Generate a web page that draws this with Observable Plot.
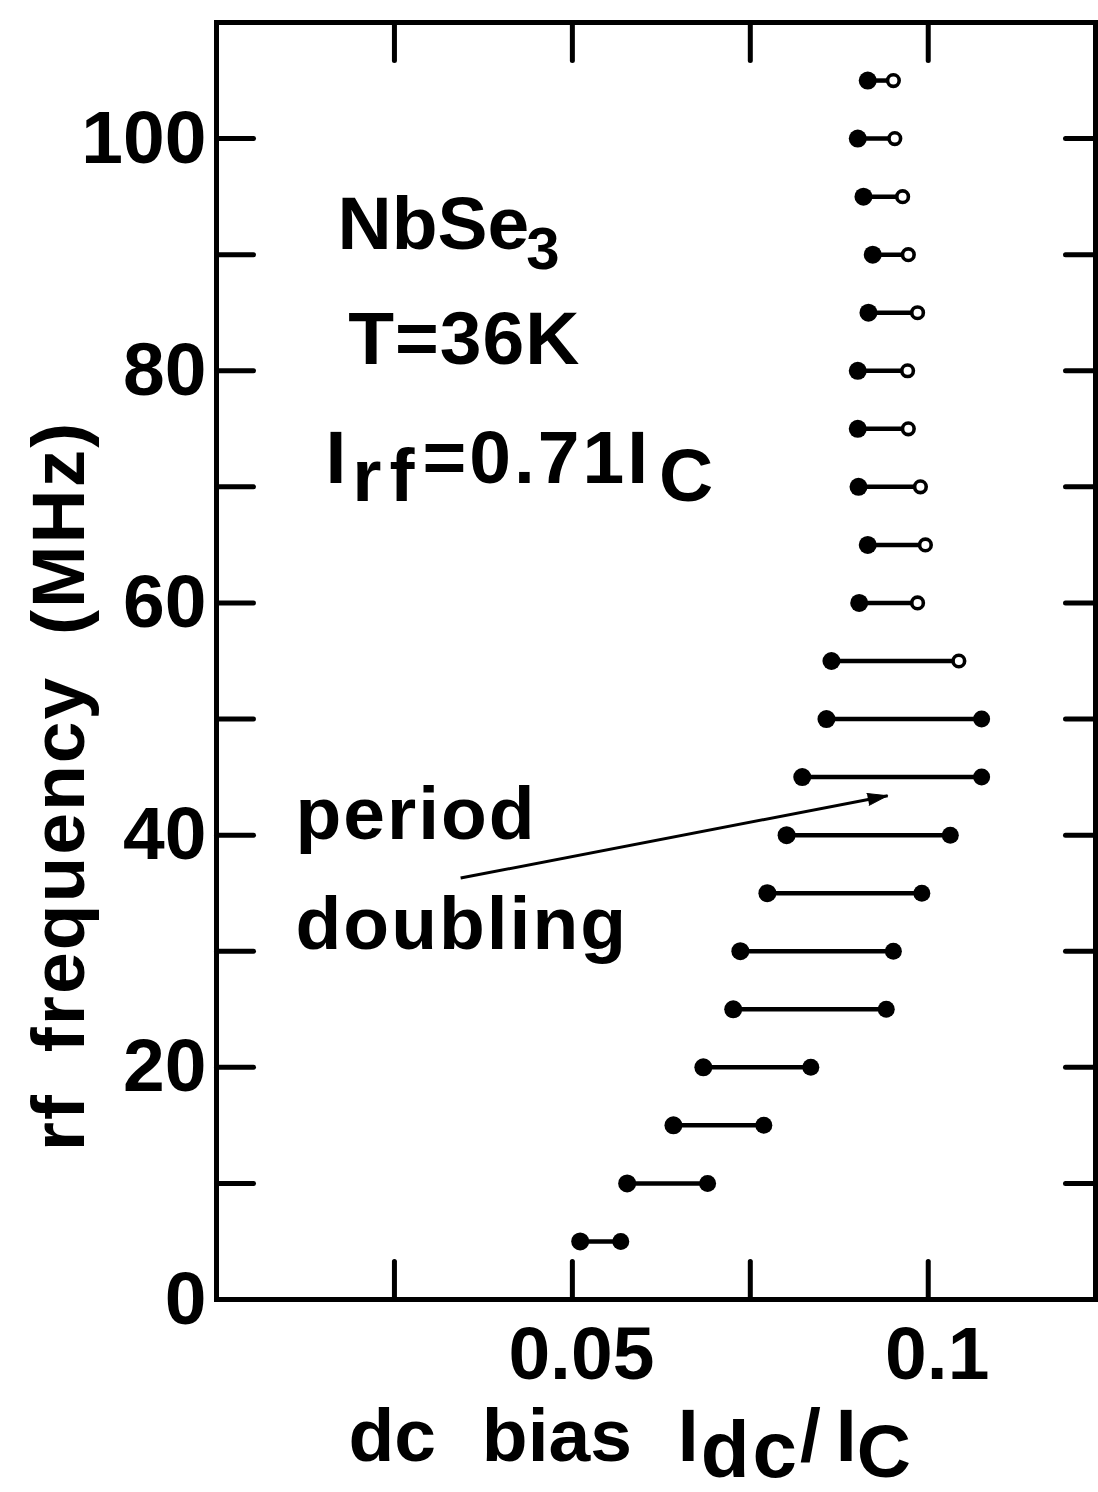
<!DOCTYPE html>
<html>
<head>
<meta charset="utf-8">
<script src="https://cdn.jsdelivr.net/npm/d3@7"></script>
<script src="https://cdn.jsdelivr.net/npm/@observablehq/plot@0.6"></script>
<style>
  html, body { margin: 0; padding: 0; background: #ffffff; }
  #chart svg { display: block; }
</style>
</head>
<body>
<div id="chart"></div>
<script>
// ---- data ----
const frequencyMHz = [5, 10, 15, 20, 25, 30, 35, 40, 45, 50, 55, 60, 65, 70, 75, 80, 85, 90, 95, 100, 105];
const lowerBias = [0.0511, 0.0577, 0.0642, 0.0684, 0.0726, 0.0736, 0.0774, 0.0801, 0.0823, 0.0857, 0.0864,
                   0.0903, 0.0915, 0.0902, 0.0901, 0.0901, 0.0916, 0.0922, 0.0909, 0.0901, 0.0915];
const upperBias = [0.0568, 0.0690, 0.0769, 0.0835, 0.0941, 0.0951, 0.0991, 0.1031, 0.1075, 0.1075, 0.1043,
                   0.0985, 0.0996, 0.0989, 0.0972, 0.0971, 0.0985, 0.0972, 0.0964, 0.0953, 0.0951];
const upperIsOpen = [false, false, false, false, false, false, false, false, false, false, true,
                     true, true, true, true, true, true, true, true, true, true];
const xTickValues = [0.025, 0.05, 0.075, 0.1];
const xTickLabels = [0.05, 0.1];
const yTickValues = [0, 10, 20, 30, 40, 50, 60, 70, 80, 90, 100];
const yTickLabels = [0, 20, 40, 60, 80, 100];
const xLabel = "dc bias I_{dc}/\u2009I_{C}";
const yLabel = "rf frequency (MHz)";
const noteTexts = ["NbSe_{3}", "T=36K", "I_{rf}=0.71I_{C}", "period", "doubling"];
const noteX = [0.0170, 0.0185, 0.0153, 0.0111, 0.0111];
const noteY = [90.5, 80.6, 70.3, 39.7, 30.2];
const arrowFrom = {x: 0.0343, y: 36.3};
const arrowTo = {x: 0.0943, y: 43.4};

// ---- layout ----
const W = 1098, H = 1492;
const mL = 216, mR = 3, mT = 22, mB = 193;
const xDomain = [0, 0.1235];
const yDomain = [0, 110];
const FONT = "'Liberation Sans', Arial, Helvetica, sans-serif";

const rows = frequencyMHz.map((f, i) => ({f, lo: lowerBias[i], hi: upperBias[i], open: upperIsOpen[i]}));
const notes = noteTexts.map((t, i) => ({t, x: noteX[i], y: noteY[i]}));
const arrows = [{x1: arrowFrom.x, y1: arrowFrom.y, x2: arrowTo.x, y2: arrowTo.y}];

// screen angle of the arrow (derived from the scales' pixel ratios)
const kx = (W - mL - mR) / (xDomain[1] - xDomain[0]);
const ky = (H - mT - mB) / (yDomain[1] - yDomain[0]);
const arrowAngle = d => Math.atan2((d.x2 - d.x1) * kx, (d.y2 - d.y1) * ky) * 180 / Math.PI;

const tickShape = {draw(ctx, l) { ctx.moveTo(0, 0); ctx.lineTo(0, -l); }};
const tickStyle = {stroke: "black", strokeWidth: 5, strokeLinecap: "round", shape: tickShape, anchor: "start"};

const plot = Plot.plot({
  width: W, height: H,
  marginLeft: mL, marginRight: mR, marginTop: mT, marginBottom: mB,
  style: {fontFamily: FONT, fontWeight: "bold", color: "black", background: "white"},
  x: {domain: xDomain, label: null},
  y: {domain: yDomain, label: null},
  marks: [
    Plot.frame({stroke: "black", strokeWidth: 5}),
    // inward ticks on all four sides
    Plot.vector(yTickValues, {y: d => d, frameAnchor: "left", rotate: 90, length: 37, ...tickStyle}),
    Plot.vector(yTickValues, {y: d => d, frameAnchor: "right", rotate: -90, length: 30, ...tickStyle}),
    Plot.vector(xTickValues, {x: d => d, frameAnchor: "top", rotate: 180, length: 38, ...tickStyle}),
    Plot.vector(xTickValues, {x: d => d, frameAnchor: "bottom", rotate: 0, length: 38, ...tickStyle}),
    // tick labels
    Plot.axisY(yTickLabels, {anchor: "left", tickSize: 0, tickPadding: 10, fontSize: 75, fontWeight: "bold", label: null}),
    Plot.axisX(xTickLabels, {anchor: "bottom", tickSize: 0, tickPadding: 26, dx: 9, fontSize: 75, fontWeight: "bold",
      tickFormat: d => String(d), label: null}),
    // axis titles
    Plot.text([yLabel], {frameAnchor: "left", rotate: -90, textAnchor: "middle", lineAnchor: "bottom",
      dx: -133, dy: 125, fontSize: 75, fontWeight: "bold"}),
    Plot.text([xLabel], {frameAnchor: "bottom", textAnchor: "start", lineAnchor: "bottom",
      dx: 348 - (mL + W - mR) / 2, dy: 161, fontSize: 75, fontWeight: "bold"}),
    // data: ranges with end markers
    Plot.link(rows, {x1: "lo", x2: "hi", y1: "f", y2: "f", stroke: "black", strokeWidth: 4.5}),
    Plot.dot(rows, {x: "lo", y: "f", r: 9, fill: "black", stroke: "none"}),
    Plot.dot(rows.filter(d => !d.open), {x: "hi", y: "f", r: 8.5, fill: "black", stroke: "none"}),
    Plot.dot(rows.filter(d => d.open), {x: "hi", y: "f", r: 5.8, fill: "white", stroke: "black", strokeWidth: 3.6}),
    // annotations
    Plot.text(notes, {x: "x", y: "y", text: "t", textAnchor: "start", lineAnchor: "bottom", fontSize: 75, fontWeight: "bold"}),
    Plot.link(arrows, {x1: "x1", y1: "y1", x2: "x2", y2: "y2", stroke: "black", strokeWidth: 3}),
    Plot.vector(arrows, {x: "x2", y: "y2", rotate: arrowAngle, length: 20, r: 6, shape: "spike", anchor: "end",
      fill: "black", stroke: "black", strokeWidth: 1})
  ]
});

// ---- rich text (subscripts, spacing) ----
const svgNS = "http://www.w3.org/2000/svg";
const richOpts = {
  "NbSe_{3}": {shift: 20, subSize: 60, subDx: -3, subSpacing: 0},
  "I_{rf}=0.71I_{C}": {shift: 18, subSize: 75, subDx: 3, subSpacing: 8, spacing: 3, lastDx: 8},
  [xLabel]: {shift: 16, subSize: 80, subDx: 2, subSpacing: 3, wordSpacing: 25, lastDx: 0}
};
const plainSpacing = {"T=36K": 1, "period": 2, "doubling": 2};
d3.select(plot).selectAll("text").each(function () {
  const s = this.textContent;
  if (s === yLabel) {
    this.setAttribute("word-spacing", 18);
    this.setAttribute("letter-spacing", 2);
    return;
  }
  if (plainSpacing[s] != null) { this.setAttribute("letter-spacing", plainSpacing[s]); return; }
  const o = richOpts[s];
  if (!o) return;
  if (o.wordSpacing) this.setAttribute("word-spacing", o.wordSpacing);
  if (o.spacing) this.setAttribute("letter-spacing", o.spacing);
  const parts = [];
  const re = /_\{([^}]*)\}/g;
  let last = 0, m;
  while ((m = re.exec(s))) {
    if (m.index > last) parts.push({t: s.slice(last, m.index), sub: false});
    parts.push({t: m[1], sub: true});
    last = re.lastIndex;
  }
  if (last < s.length) parts.push({t: s.slice(last), sub: false});
  this.textContent = "";
  let down = false;
  parts.forEach((p, k) => {
    const ts = document.createElementNS(svgNS, "tspan");
    ts.textContent = p.t;
    if (p.sub) {
      if (!down) { ts.setAttribute("dy", o.shift); down = true; }
      const isLast = k === parts.length - 1;
      ts.setAttribute("dx", (isLast && o.lastDx != null) ? o.lastDx : o.subDx);
      // the final subscript C keeps the main size in the axis title
      ts.setAttribute("font-size", (isLast && s === xLabel) ? 75 : o.subSize);
      if (o.subSpacing && !(isLast && s === xLabel)) ts.setAttribute("letter-spacing", o.subSpacing);
    } else if (down) {
      ts.setAttribute("dy", -o.shift);
      down = false;
    }
    this.appendChild(ts);
  });
});

document.getElementById("chart").appendChild(plot);
</script>
</body>
</html>
